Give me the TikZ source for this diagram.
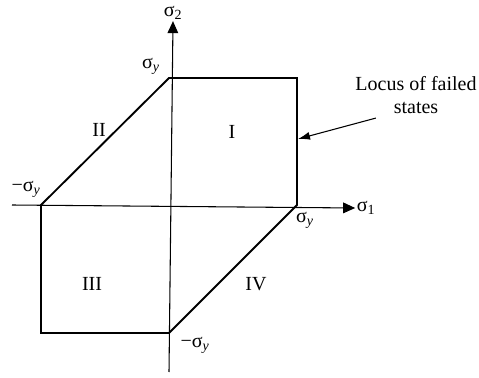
\documentclass[tikz,border=0pt]{standalone}
\usepackage{fontspec}
\setmainfont{Liberation Serif}
\usetikzlibrary{arrows.meta,positioning}
\newcommand{\sig}{σ}
\newcommand{\sy}{σ\textsubscript{\textit{y}}}

\begin{document}
\begin{tikzpicture}[x=0.75pt,y=-0.75pt,
  axis/.style={line width=0.8pt,-{Triangle[length=9pt,width=8pt]}},
  locus/.style={line width=1.4pt,line join=miter},
  lab/.style={font=\fontsize{15}{17}\selectfont,inner sep=1pt},
  arr/.style={line width=0.8pt,-{Latex[length=9pt,width=6pt]}}
]
\useasboundingbox (0,0) rectangle (479,378);
% corners of the yield locus
\coordinate (o) at (169,205);
\coordinate (a) at (41,205);
\coordinate (b) at (169,78);
\coordinate (c) at (297,78);
\coordinate (d) at (297,205);
\coordinate (e) at (169,333);
\coordinate (f) at (41,333);
% axes
\coordinate (xl) at (12,205);
\coordinate (yb) at (169,372);
\node[lab] (s1) at (366,208) {\sig\textsubscript{1}};
\node[lab] (s2) at (173,13) {\sig\textsubscript{2}};
\draw[axis] (xl) -- (s1.west);
\draw[axis] (yb) -- (s2.south);
\draw[locus] (a) -- (b) -- (c) -- (d) -- (e) -- (f) -- cycle;
% axis labels
\node[lab] (sytop) at (151,66) {\sy};
\node[lab] (syright) at (305,220) {\sy};
\node[lab] (syleft) at (26,189) {−\sy};
\node[lab] (sybot) at (195,345) {−\sy};
% regions
\node[lab] (r1) at (232,132) {I};
\node[lab] (r2) at (99,130) {II};
\node[lab] (r3) at (92,284) {III};
\node[lab] (r4) at (256,284) {IV};
% failed states
\node[lab,align=center] (fail) at (416,95) {Locus of failed\\states};
\coordinate (tip) at (298,139);
\draw[arr] (fail.south west) ++(22,3) coordinate (tail) -- (tip);
\end{tikzpicture}
\end{document}
